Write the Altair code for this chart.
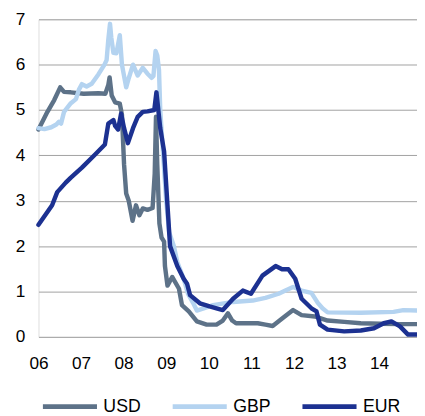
import altair as alt
import pandas as pd

# Decimal years and rates (%)
usd_t = [2006.00, 2006.21, 2006.37, 2006.51, 2006.60, 2006.76, 2007.06, 2007.41, 2007.57, 2007.64,
         2007.67, 2007.72, 2007.80, 2007.91, 2007.96, 2008.01, 2008.06, 2008.12, 2008.21, 2008.29,
         2008.37, 2008.45, 2008.56, 2008.68, 2008.73, 2008.76, 2008.79, 2008.84, 2008.89, 2008.95,
         2008.97, 2009.03, 2009.14, 2009.30, 2009.37, 2009.53, 2009.72, 2009.95, 2010.18, 2010.33,
         2010.45, 2010.55, 2010.64, 2010.87, 2011.15, 2011.33, 2011.50, 2011.73, 2011.98, 2012.18,
         2012.49, 2012.79, 2013.18, 2013.57, 2014.03, 2014.49, 2014.89]
usd_v = [4.57, 4.96, 5.22, 5.50, 5.40, 5.39, 5.36, 5.37, 5.36, 5.55,
         5.72, 5.32, 5.17, 5.14, 4.90, 3.80, 3.16, 3.00, 2.56, 2.90,
         2.68, 2.83, 2.80, 2.84, 3.60, 4.85, 3.80, 2.50, 2.19, 2.10,
         1.56, 1.13, 1.32, 1.06, 0.70, 0.56, 0.34, 0.27, 0.27, 0.36,
         0.52, 0.36, 0.30, 0.30, 0.30, 0.27, 0.24, 0.41, 0.59, 0.48,
         0.45, 0.36, 0.33, 0.30, 0.29, 0.28, 0.28]

gbp_t = [2006.00, 2006.14, 2006.30, 2006.42, 2006.48, 2006.53, 2006.60, 2006.76, 2006.88, 2006.95,
         2007.02, 2007.13, 2007.25, 2007.41, 2007.55, 2007.60, 2007.64, 2007.68, 2007.71, 2007.76,
         2007.83, 2007.91, 2007.96, 2008.06, 2008.12, 2008.22, 2008.33, 2008.45, 2008.56, 2008.66,
         2008.70, 2008.75, 2008.79, 2008.83, 2008.86, 2008.93, 2009.00, 2009.07, 2009.18, 2009.26,
         2009.42, 2009.51, 2009.63, 2009.72, 2009.86, 2010.10, 2010.57, 2011.03, 2011.33, 2011.64,
         2011.80, 2011.98, 2012.18, 2012.41, 2012.56, 2012.67, 2012.79, 2013.57, 2014.34, 2014.57,
         2014.89]
gbp_v = [4.60, 4.58, 4.62, 4.68, 4.74, 4.70, 4.96, 5.15, 5.24, 5.45,
         5.57, 5.52, 5.58, 5.79, 6.00, 6.10, 6.55, 6.90, 6.60, 6.26,
         6.25, 6.65, 6.00, 5.50, 5.70, 6.00, 5.76, 5.93, 5.80, 5.71,
         5.75, 6.30, 6.20, 5.89, 5.00, 4.00, 3.00, 2.30, 2.00, 1.65,
         1.25, 0.95, 0.75, 0.58, 0.62, 0.70, 0.77, 0.80, 0.86, 0.95,
         1.02, 1.10, 1.02, 0.97, 0.75, 0.63, 0.54, 0.53, 0.55, 0.59,
         0.58]

eur_t = [2006.00, 2006.32, 2006.44, 2006.64, 2006.76, 2007.02, 2007.33, 2007.56, 2007.64, 2007.76,
         2007.80, 2007.87, 2007.94, 2008.01, 2008.10, 2008.22, 2008.33, 2008.45, 2008.56, 2008.72,
         2008.77, 2008.86, 2008.95, 2009.03, 2009.09, 2009.26, 2009.41, 2009.49, 2009.56, 2009.79,
         2010.02, 2010.18, 2010.33, 2010.57, 2010.80, 2010.99, 2011.26, 2011.57, 2011.72, 2011.87,
         2012.03, 2012.18, 2012.41, 2012.53, 2012.61, 2012.79, 2013.18, 2013.57, 2013.88, 2014.11,
         2014.29, 2014.49, 2014.68, 2014.89]
eur_v = [2.47, 2.90, 3.19, 3.40, 3.51, 3.73, 4.02, 4.24, 4.70, 4.78,
         4.65, 4.57, 4.92, 4.60, 4.27, 4.60, 4.85, 4.96, 4.97, 5.00,
         5.39, 4.60, 4.09, 2.90, 2.00, 1.56, 1.28, 1.17, 0.92, 0.74,
         0.67, 0.63, 0.59, 0.84, 1.02, 0.95, 1.35, 1.56, 1.49, 1.49,
         1.28, 0.84, 0.63, 0.56, 0.27, 0.16, 0.12, 0.14, 0.19, 0.30,
         0.34, 0.23, 0.05, 0.05]

series = ["USD", "GBP", "EUR"]
colors = ["#5d7288", "#b4d3f0", "#1c3191"]
year_ticks = [2006, 2007, 2008, 2009, 2010, 2011, 2012, 2013, 2014]
y_ticks = [0, 1, 2, 3, 4, 5, 6, 7]

rows = []
for name, ts, vs in zip(series, [usd_t, gbp_t, eur_t], [usd_v, gbp_v, eur_v]):
    for i, (t, v) in enumerate(zip(ts, vs)):
        rows.append({"series": name, "t": t, "v": v, "order": i})
df = pd.DataFrame(rows)

FONT = "Liberation Sans"

chart = alt.Chart(df).mark_line(strokeWidth=4.5, strokeJoin="round", strokeCap="round").encode(
    x=alt.X("t:Q", scale=alt.Scale(domain=[2006, 2014.89], nice=False, zero=False),
            axis=alt.Axis(values=year_ticks, format="d", labelExpr="substring(datum.label, 2, 4)",
                          grid=False, domain=False, ticks=False, labelPadding=18,
                          labelFontSize=17.5, labelFont=FONT, labelColor="#000000", title=None,
                          labelFlush=False, labelOverlap=False)),
    y=alt.Y("v:Q", scale=alt.Scale(domain=[0, 7], nice=False),
            axis=alt.Axis(values=y_ticks, grid=True, gridColor="#a0a0a0", gridWidth=1,
                          domain=False, ticks=False, labelPadding=14,
                          labelFontSize=17.5, labelFont=FONT, labelColor="#000000", title=None)),
    color=alt.Color("series:N", scale=alt.Scale(domain=series, range=colors),
                    sort=series,
                    legend=alt.Legend(title=None, orient="none", direction="horizontal",
                                      legendX=2, legendY=364,
                                      symbolType="stroke", symbolSize=3025, symbolStrokeWidth=5,
                                      labelFontSize=18, labelFont=FONT, labelColor="#000000",
                                      labelOffset=4, columnPadding=21)),
    order=alt.Order("order:Q"),
).properties(
    width=385, height=323,
    autosize=alt.AutoSizeParams(type="none"),
    padding={"left": 31, "top": 8, "right": 0, "bottom": 76},
).configure_view(stroke=None).configure(background="white")

chart.save("out.html", embed_options={"renderer": "svg", "actions": False})
